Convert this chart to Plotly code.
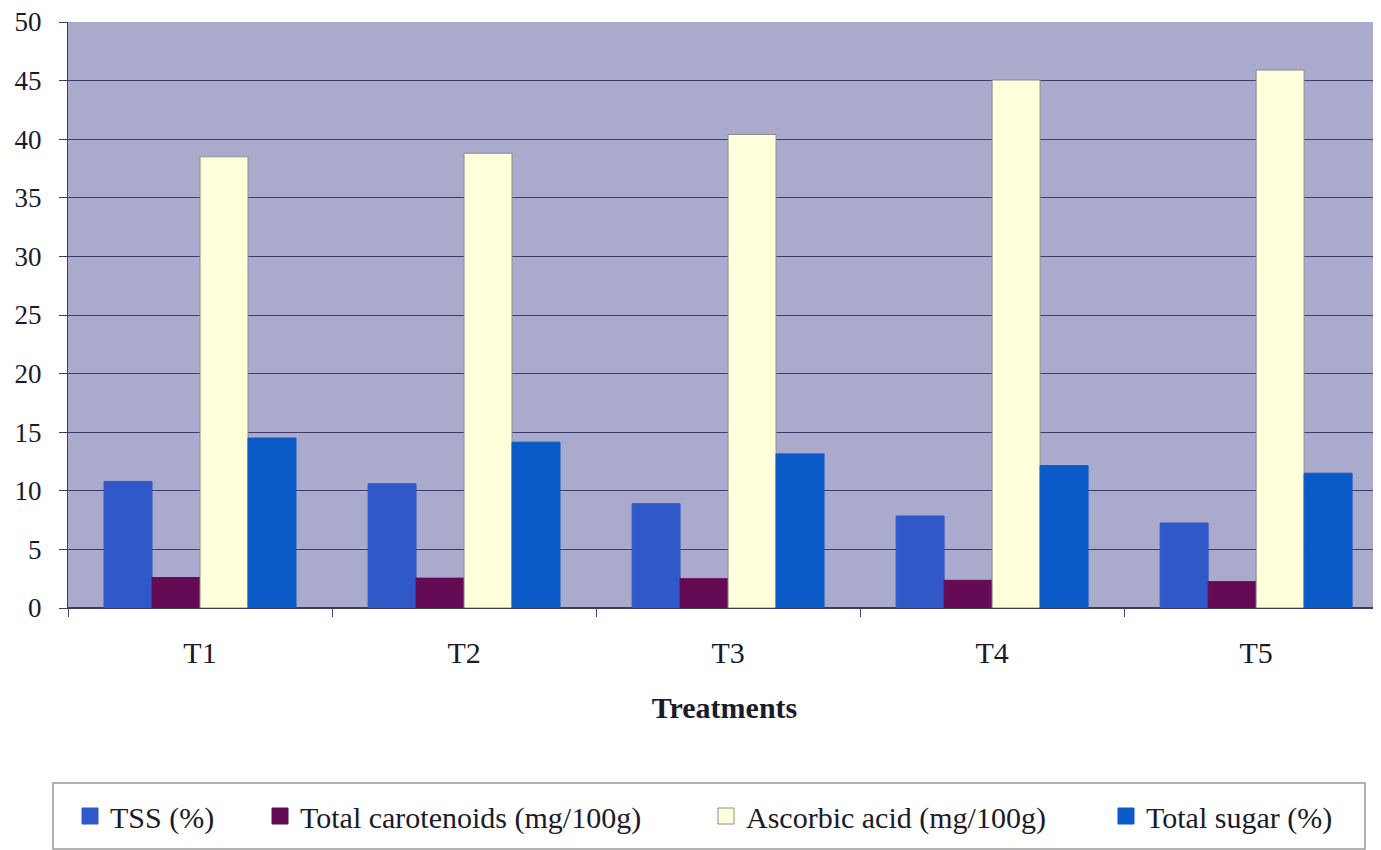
import plotly.graph_objects as go

treatments = ["T1", "T2", "T3", "T4", "T5"]
tss = [10.8, 10.6, 8.9, 7.85, 7.25]
carotenoids = [2.6, 2.55, 2.5, 2.36, 2.25]
ascorbic = [38.5, 38.8, 40.4, 45.05, 45.9]
total_sugar = [14.5, 14.15, 13.15, 12.15, 11.5]

series_names = ["TSS (%)", "Total carotenoids (mg/100g)", "Ascorbic acid (mg/100g)", "Total sugar (%)"]
series_values = [tss, carotenoids, ascorbic, total_sugar]
series_colors = ["#3158C8", "#650A55", "#FFFFDC", "#0A5AC8"]
series_edges = ["#3158C8", "#650A55", "#8a8a8a", "#0A5AC8"]
y_ticks = [0, 5, 10, 15, 20, 25, 30, 35, 40, 45, 50]

font_family = "Liberation Serif, Times New Roman, Times, serif"
text_color = "#1a1a2a"

# page has an 8px body margin; figure sized to fill the 1381x850 window
OFF = 8
W, H = 1381 - OFF, 850 - OFF
L, T = 68 - OFF, 22 - OFF          # plot area left/top in figure px
BOTTOM = 608 - OFF                  # zero line in figure px
B = H - BOTTOM
pw, ph = W - L, BOTTOM - T

def px(x_page):
    return (x_page - OFF - L) / pw

def py(y_page):
    return (BOTTOM - (y_page - OFF)) / ph

legend_marker_centers = [90, 280, 726, 1126]
legend_names = ["legend", "legend2", "legend3", "legend4"]

fig = go.Figure()
for name, vals, col, edge, lg in zip(series_names, series_values, series_colors, series_edges, legend_names):
    fig.add_trace(go.Bar(
        x=treatments, y=vals, name=name, showlegend=False,
        marker=dict(color=col, line=dict(color=edge, width=1)),
    ))
    # legend entry
    fig.add_trace(go.Scatter(
        x=[None], y=[None], mode="markers", name=name, legend=lg,
        marker=dict(symbol="square", size=16, color=col, line=dict(color=edge, width=1)),
    ))

legend_common = dict(
    orientation="h", yanchor="middle", xanchor="left",
    bgcolor="rgba(0,0,0,0)", borderwidth=0,
    font=dict(family=font_family, size=30, color=text_color),
)
layout_legends = {}
for lg, cx in zip(legend_names, legend_marker_centers):
    layout_legends[lg] = dict(legend_common, x=px(cx - 20), y=py(816))

fig.update_layout(
    width=W, height=H,
    margin=dict(l=L, r=0, t=T, b=B, autoexpand=False),
    paper_bgcolor="white",
    plot_bgcolor="#AAAACC",
    barmode="group",
    bargap=0.273,
    bargroupgap=0,
    font=dict(family=font_family, size=30, color=text_color),
    showlegend=True,
    xaxis=dict(
        range=[-0.5, 4.473],
        automargin=False,
        tickson="boundaries",
        ticks="outside", ticklen=8, tickcolor="#444466",
        showline=True, linecolor="#3c3c64", linewidth=1,
        showgrid=False,
        ticklabelstandoff=18,
        ticklabeloverflow="allow",
        tickfont=dict(family=font_family, size=30, color=text_color),
        title=dict(text="<b>Treatments</b>", font=dict(family=font_family, size=30, color=text_color), standoff=28),
    ),
    yaxis=dict(
        range=[0, 50],
        automargin=False,
        tickvals=y_ticks,
        ticks="outside", ticklen=8, tickcolor="#3c3c64",
        showline=True, linecolor="#3c3c64", linewidth=1,
        showgrid=True, gridcolor="#3c3c6e", gridwidth=1,
        zeroline=True, zerolinecolor="#3c3c64",
        ticklabelstandoff=12,
        ticklabeloverflow="allow",
        tickfont=dict(family=font_family, size=27, color=text_color),
    ),
    shapes=[dict(
        type="rect", xref="paper", yref="paper",
        x0=px(53), x1=px(1365), y0=py(849), y1=py(783),
        line=dict(color="#9a9a9a", width=1.5), fillcolor="rgba(0,0,0,0)",
    )],
    **layout_legends,
)

fig.write_html("out.html")
